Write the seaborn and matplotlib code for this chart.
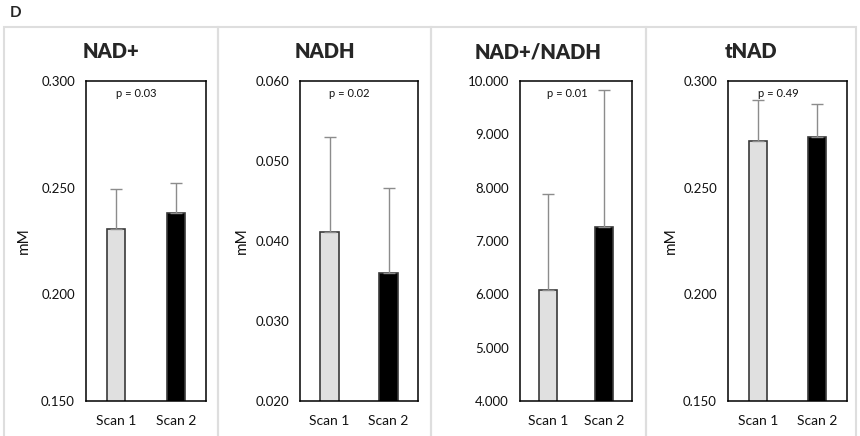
import matplotlib
matplotlib.use("Agg")
import matplotlib.pyplot as plt
import seaborn as sns
import numpy as np
import pandas as pd
from matplotlib.patches import Rectangle
from matplotlib.ticker import FormatStrFormatter

# Values (mean and upper SD per scan)
scans = ["Scan 1", "Scan 2"]
titles = ["NAD+", "NADH", "NAD+/NADH", "tNAD"]
p_values = ["p = 0.03", "p = 0.02", "p = 0.01", "p = 0.49"]

nad_mean = [0.2306, 0.2380]
nad_err = [0.0186, 0.0143]
nadh_mean = [0.0411, 0.0360]
nadh_err = [0.0119, 0.0106]
ratio_mean = [6.075, 7.270]
ratio_err = [1.815, 2.560]
tnad_mean = [0.2717, 0.2739]
tnad_err = [0.0194, 0.0151]

ylims = [(0.150, 0.300), (0.020, 0.060), (4.0, 10.0), (0.150, 0.300)]
ytick_steps = [0.05, 0.01, 1.0, 0.05]
ylabels = ["mM", "mM", "", "mM"]

bar_colors = ["#e0e0e0", "#000000"]

sns.set_theme(style="white")
plt.rcParams["font.family"] = ["Lato", "DejaVu Sans"]

W, H = 860, 436
fig = plt.figure(figsize=(W / 100, H / 100), dpi=100)

# panel cards (left, right) and axes (left, right) in pixels
cards = [(4, 218), (218, 431), (431, 646), (646, 856)]
axes_px = [(86, 206), (300, 418), (520, 632), (728, 847)]
ax_top, ax_bot = 81, 401
label_x = [-0.46, -0.43, None, -0.42]

means = [nad_mean, nadh_mean, ratio_mean, tnad_mean]
errs = [nad_err, nadh_err, ratio_err, tnad_err]

for (cl, cr) in cards:
    fig.patches.append(Rectangle((cl / W, -0.1), (cr - cl) / W, (H - 27) / H + 0.1,
                                 transform=fig.transFigure, fill=False,
                                 edgecolor="#dedede", linewidth=1.5))

fig.text(10 / W, 1 - 13 / H, "D", fontsize=11, fontweight="bold", va="center", ha="left")

for i in range(4):
    l, r = axes_px[i]
    ax = fig.add_axes([l / W, 1 - ax_bot / H, (r - l) / W, (ax_bot - ax_top) / H])
    df = pd.DataFrame({"scan": scans, "value": means[i]})
    sns.barplot(data=df, x="scan", y="value", hue="scan", palette=bar_colors,
                width=0.31, legend=False, ax=ax)
    for p in ax.patches:
        p.set_edgecolor("#3a3a3a")
        p.set_linewidth(1.2)
    ax.errorbar(np.arange(2), means[i], yerr=[[0, 0], errs[i]], fmt="none",
                ecolor="#8c8c8c", elinewidth=1, capsize=4, capthick=1)

    lo, hi = ylims[i]
    ax.set_ylim(lo, hi)
    ax.set_xlim(-0.5, 1.5)
    ax.set_yticks(np.arange(lo, hi + ytick_steps[i] / 2, ytick_steps[i]))
    ax.yaxis.set_major_formatter(FormatStrFormatter("%.3f"))
    ax.tick_params(axis="both", length=0, labelsize=9.5, colors="#111111")
    ax.tick_params(axis="x", pad=10, labelsize=10)
    ax.tick_params(axis="y", pad=8)
    ax.set_xlabel("")
    ax.set_ylabel(ylabels[i], fontsize=11, color="#111111")
    if label_x[i] is not None:
        ax.yaxis.set_label_coords(label_x[i], 0.5)
    for s in ax.spines.values():
        s.set_color("#000000")
        s.set_linewidth(1.1)
        s.set_visible(True)
    ax.text(0.42, 0.962, p_values[i], transform=ax.transAxes, ha="center",
            va="center", fontsize=8, color="#111111")

    cl, cr = cards[i]
    fig.text((cl + cr) / 2 / W, 1 - 52 / H, titles[i], ha="center", va="center",
             fontsize=14.5, fontweight="heavy")

fig.savefig("out.png", dpi=100, facecolor="white")
